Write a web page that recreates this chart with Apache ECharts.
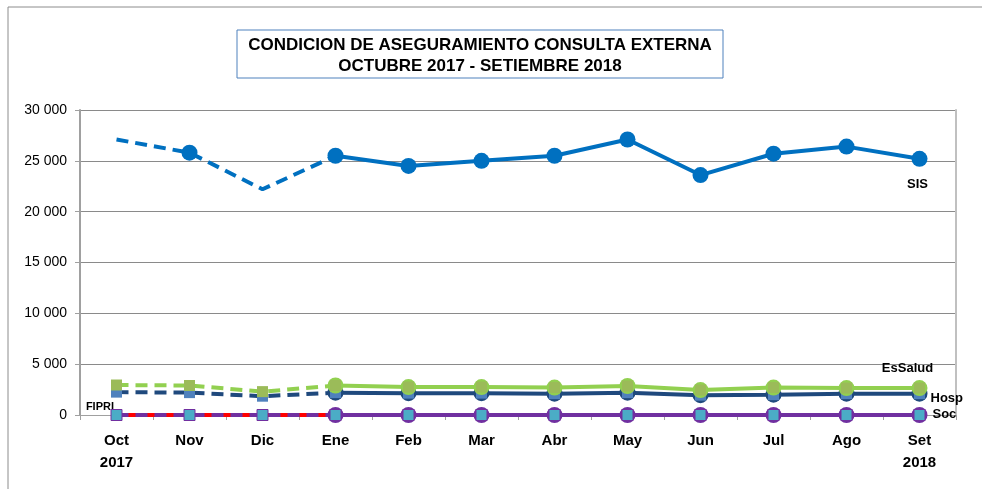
<!DOCTYPE html>
<html>
<head>
<meta charset="utf-8">
<script src="https://cdn.jsdelivr.net/npm/echarts@6/dist/echarts.min.js"></script>
<style>
  html, body { margin: 0; padding: 0; background: #fff; }
  #chart { width: 982px; height: 489px; }
</style>
</head>
<body>
<div id="chart"></div>
<script>
// meses (categorías del eje X)
const months = ['Oct\n2017', 'Nov', 'Dic', 'Ene', 'Feb', 'Mar', 'Abr', 'May', 'Jun', 'Jul', 'Ago', 'Set\n2018'];

// atenciones por condición de aseguramiento
const sis     = [27100, 25800, 22200, 25500, 24500, 25000, 25500, 27100, 23600, 25700, 26400, 25200];
const essalud = [2950, 2900, 2300, 2900, 2750, 2750, 2700, 2850, 2450, 2700, 2650, 2650];
const hosp    = [2250, 2200, 1850, 2200, 2150, 2150, 2100, 2200, 1950, 2000, 2100, 2100];
const soc     = [0, 0, 0, 0, 0, 0, 0, 0, 0, 0, 0, 0];
const fipri   = [0, 0, 0, 0, 0, 0, 0, 0, 0, 0, 0, 0];

const yTicks = [0, 5000, 10000, 15000, 20000, 25000, 30000];

// tramo punteado Oct-Ene y tramo continuo Ene-Set
const DASH_END = 3;
const dashed = arr => arr.map((v, i) => (i <= DASH_END ? v : null));
const solid = arr => arr.map((v, i) => (i >= DASH_END ? v : null));
// etiqueta (nombre de la serie) en un solo punto
const withLabel = (arr, idx, label, extra) => arr.map((v, i) => (i === idx ? Object.assign({ value: v, label }, extra) : v));
const tag = (text, extra) => Object.assign({
  show: true, color: '#000', fontWeight: 'bold', fontSize: 13,
  fontFamily: 'Liberation Sans, Arial, sans-serif',
  formatter: text,
}, extra);

const chart = echarts.init(document.getElementById('chart'));

const lineSeries = (data, color, dash, opts = {}) => Object.assign({
  type: 'line',
  data,
  symbol: 'none',
  connectNulls: false,
  lineStyle: { color, width: 4, type: dash ? [12, 7] : 'solid' },
  itemStyle: { color },
  silent: true,
  animation: false,
}, opts);

const circleSeries = (data, color, z) => lineSeries(data, color, false, {
  symbol: 'circle', symbolSize: 16, z,
});

const squareSeries = (data, color, border, z) => ({
  type: 'line',
  data,
  symbol: 'rect',
  symbolSize: 11,
  lineStyle: { opacity: 0 },
  itemStyle: { color, borderColor: border || color, borderWidth: border ? 1 : 0 },
  silent: true,
  animation: false,
  z,
});

const option = {
  backgroundColor: '#fff',
  animation: false,
  graphic: [
    // bordes exteriores (arriba e izquierda)
    { type: 'line', shape: { x1: 8, y1: 7, x2: 982, y2: 7 }, style: { stroke: '#8c8c8c', lineWidth: 1 }, silent: true },
    { type: 'line', shape: { x1: 8, y1: 7, x2: 8, y2: 489 }, style: { stroke: '#8c8c8c', lineWidth: 1 }, silent: true },
    // recuadro del título
    { type: 'rect', shape: { x: 237, y: 30, width: 486, height: 48 }, style: { fill: '#fff', stroke: '#4F81BD', lineWidth: 1 }, silent: true },
    {
      type: 'text', x: 480, y: 35, silent: true,
      style: {
        text: 'CONDICION DE ASEGURAMIENTO CONSULTA EXTERNA\nOCTUBRE 2017 - SETIEMBRE 2018',
        align: 'center', fill: '#000', fontWeight: 'bold', fontSize: 17, lineHeight: 21,
        fontFamily: 'Liberation Sans, Arial, sans-serif',
      },
    },
  ],
  grid: { left: 80, right: 26, top: 110, bottom: 74 },
  xAxis: {
    type: 'category',
    data: months,
    boundaryGap: true,
    axisLine: { lineStyle: { color: '#a0a0a0', width: 1 } },
    axisTick: { show: true, alignWithLabel: false, length: 5, lineStyle: { color: '#a0a0a0' } },
    axisLabel: { color: '#000', fontWeight: 'bold', fontSize: 15, lineHeight: 22, margin: 15, fontFamily: 'Liberation Sans, Arial, sans-serif' },
  },
  yAxis: [{
    type: 'value',
    min: 0,
    max: 30000,
    interval: 5000,
    axisLine: { show: true, lineStyle: { color: '#a0a0a0', width: 2 } },
    axisTick: { show: true, length: 5, lineStyle: { color: '#a0a0a0' } },
    splitLine: { lineStyle: { color: '#8a8a8a', width: 1 } },
    axisLabel: {
      color: '#000', fontSize: 14, margin: 13,
      fontFamily: 'Liberation Sans, Arial, sans-serif',
      formatter: v => (yTicks.includes(v) ? String(v).replace(/\B(?=(\d{3})+(?!\d))/g, ' ') : ''),
    },
  }, {
    // borde derecho del área de trazado
    type: 'value', position: 'right', min: 0, max: 30000, interval: 5000,
    axisLine: { show: true, lineStyle: { color: '#c0c0c0', width: 2 } },
    axisTick: { show: false }, axisLabel: { show: false }, splitLine: { show: false },
  }],
  series: [
    // FIPRI (rojo) en cero
    lineSeries(
      withLabel(fipri, 0, tag('FIPRI', { position: 'left', offset: [3, -8], fontSize: 11 }), { symbol: 'circle', symbolSize: 1 }),
      '#FF0000', false, { z: 2, symbol: 'none', showSymbol: true }
    ),
    // Soc (morado)
    lineSeries(dashed(soc), '#7030A0', true, { z: 3 }),
    circleSeries(withLabel(solid(soc), 11, tag('Soc', { position: 'right', offset: [0, -1] })), '#7030A0', 3),
    squareSeries(soc, '#4BACC6', '#7030A0', 9),
    // Hosp (azul oscuro)
    lineSeries(dashed(hosp), '#1F497D', true, { z: 4 }),
    circleSeries(withLabel(solid(hosp), 11, tag('Hosp', { position: 'right', offset: [-2, 5] })), '#1F497D', 4),
    squareSeries(hosp, '#4F81BD', null, 5),
    // EsSalud (verde)
    lineSeries(dashed(essalud), '#92D050', true, { z: 6 }),
    circleSeries(withLabel(solid(essalud), 11, tag('EsSalud', { position: 'top', offset: [-12, 0] })), '#92D050', 6),
    squareSeries(essalud, '#9BBB59', null, 7),
    // SIS (azul)
    lineSeries(dashed(sis), '#0070C0', true, { z: 8 }),
    circleSeries(withLabel(solid(sis), 11, tag('SIS', { position: 'bottom', offset: [-2, 6] })), '#0070C0', 8),
    {
      type: 'line', data: sis.map((v, i) => (i === 1 ? v : null)), symbol: 'circle', symbolSize: 16,
      lineStyle: { opacity: 0 }, itemStyle: { color: '#0070C0' }, silent: true, z: 8,
    },
  ],
};

chart.setOption(option);
</script>
</body>
</html>
